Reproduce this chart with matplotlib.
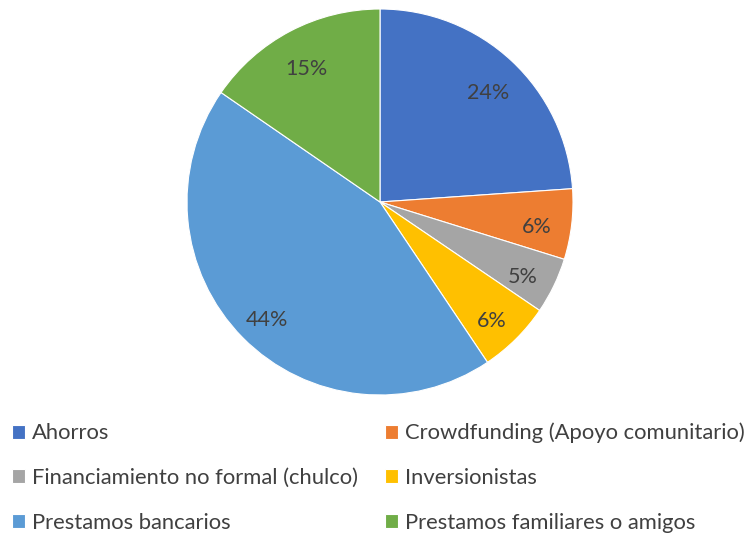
import matplotlib.pyplot as plt

# Fuentes de financiamiento (porcentaje)
categorias = ['Ahorros', 'Crowdfunding (Apoyo comunitario)', 'Financiamiento no formal (chulco)',
              'Inversionistas', 'Prestamos bancarios', 'Prestamos familiares o amigos']
valores = [23.9, 5.9, 4.7, 6.1, 44.0, 15.4]
colores = ['#4472C4', '#ED7D31', '#A5A5A5', '#FFC000', '#5B9BD5', '#70AD47']

plt.rcParams['font.family'] = ['Lato', 'DejaVu Sans']

fig = plt.figure(figsize=(7.5, 5.33), dpi=100)
ax = fig.add_axes([187 / 750, 138 / 533, 386 / 750, 386 / 533])

wedges, textos, pcts = ax.pie(valores, colors=colores, startangle=90, counterclock=False,
                              autopct='%.0f%%', pctdistance=0.82,
                              wedgeprops=dict(edgecolor='white', linewidth=0.8),
                              textprops=dict(color='#404040', fontsize=15.5))
# las etiquetas de Excel quedan un poco mas abajo
for t in pcts:
    x, y = t.get_position()
    t.set_position((x, y - 0.035))
ax.set_xlim(-1, 1)
ax.set_ylim(-1, 1)
ax.set_aspect('equal')

# la leyenda se llena por columnas, reordenamos para leer por filas
orden = [0, 2, 4, 1, 3, 5]
fig.legend([wedges[i] for i in orden], [categorias[i] for i in orden], ncol=2,
           loc='upper left', bbox_to_anchor=(3 / 750, 1 - 414 / 533),
           frameon=False, fontsize=15.8, labelcolor='#404040',
           handlelength=0.6, handleheight=0.6, handletextpad=0.33,
           labelspacing=1.12, columnspacing=1.2, borderaxespad=0)

fig.savefig('out.png', dpi=100)
